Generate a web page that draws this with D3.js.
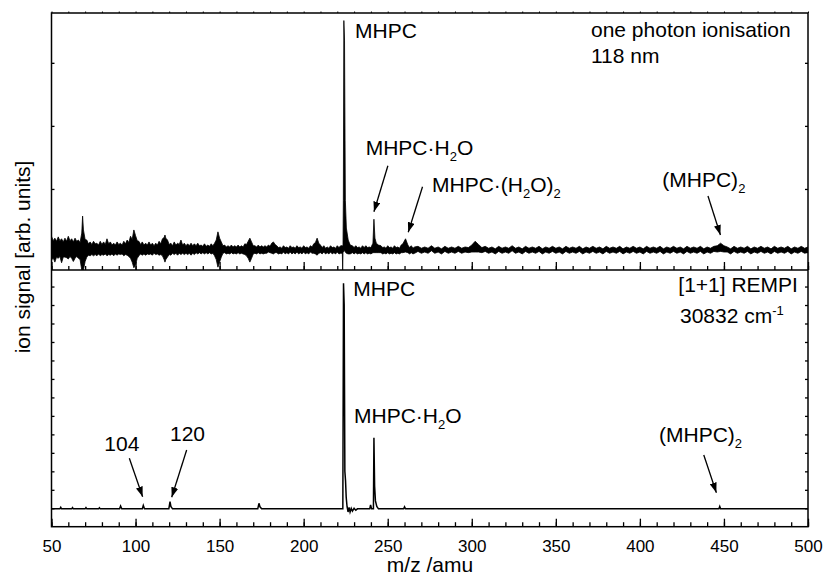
<!DOCTYPE html>
<html>
<head>
<meta charset="utf-8">
<script src="https://cdn.jsdelivr.net/npm/d3@7"></script>
<style>
  body { margin: 0; background: #fff; }
  text { font-family: "Liberation Sans", Arial, sans-serif; fill: #000; }
</style>
</head>
<body>
<svg id="chart" width="824" height="578"></svg>
<script>
// --- top trace: one photon ionisation, 118 nm (upper / lower envelope of the noisy signal) ---
const topMz = [
  50,51,52,53,54,55,56,57,58,59,
  60,61,62,63,64,65,66,67,68,68.5,
  69,70,71,72,73,74,75,76,77,78,
  79,80,81,82,83,84,85,86,87,88,
  89,90,91,92,93,94,95,96,97,98,
  99,100,101,102,103,104,105,106,107,108,
  109,110,111,112,113,114,115,116,117,117.5,
  118,119,120,121,122,123,124,125,126,127,
  128,129,130,131,132,133,134,135,136,137,
  138,139,140,141,142,143,144,145,146,147,
  148,149,150,151,152,153,154,155,156,157,
  158,159,160,161,162,163,164,165,166,167,
  168,169,170,171,172,173,174,175,176,177,
  178,179,180,181,182,183,184,185,186,187,
  188,189,190,191,192,193,194,195,196,197,
  198,199,200,201,202,203,204,205,206,207,
  208,209,210,211,212,213,214,215,216,217,
  218,219,220,221,222,
  223,223.2,223.4,223.6,223.9,224.3,224.8,225.4,226.5,227.7,
  229,230,231,232,233,234,235,236,237,238,
  239,240,241.2,241.8,242.4,243.2,244.5,246,247,248,
  249,250,251,252,253,254,255,256,257,258,
  259,260.6,262,263,264,265,266,
  268,270,272,274,276,278,280,282,284,286,
  288,290,292,294,296,298,300,302,304,306,
  308,310,312,314,316,318,320,322,324,326,
  328,330,332,334,336,338,340,342,344,346,
  348,350,352,354,356,358,360,362,364,366,
  368,370,372,374,376,378,380,382,384,386,
  388,390,392,394,396,398,400,402,404,406,
  408,410,412,414,416,418,420,422,424,426,
  428,430,432,434,436,438,440,442,444,446,
  448,450,452,454,456,458,460,462,464,466,
  468,470,472,474,476,478,480,482,484,486,
  488,490,492,494,496,498,500];
const topHi = [
  2.5,1.8,2.2,1.7,2.4,1.8,2.1,1.6,2.2,1.7,
  2.5,1.8,2.1,1.6,2.2,1.7,1.9,1.5,3.0,5.7,
  3.5,2.0,1.9,1.3,1.6,1.2,1.7,1.3,1.4,1.1,
  1.7,1.2,1.6,1.2,2.1,1.3,1.6,1.1,1.4,1.1,
  1.6,1.2,1.4,1.1,1.7,1.3,1.9,1.5,2.5,2.0,
  3.5,2.6,1.8,1.7,1.2,1.6,1.1,1.4,1.1,1.6,
  1.1,1.4,1.0,1.4,1.1,1.7,1.3,2.1,2.3,2.7,
  2.2,1.9,1.2,1.4,1.0,1.6,1.1,1.4,1.2,1.9,
  1.1,1.4,1.0,1.3,1.0,1.4,1.0,1.3,1.0,1.4,
  1.0,1.1,0.9,1.3,0.9,1.1,0.9,1.3,1.0,1.4,
  1.9,3.2,2.2,1.6,1.0,1.1,0.8,1.0,0.8,1.1,
  0.8,1.0,0.8,1.1,0.8,1.0,0.8,1.3,1.2,1.7,
  2.2,1.6,1.0,1.0,0.8,1.1,0.8,1.0,0.8,1.0,
  0.8,1.1,0.9,1.4,1.6,1.2,1.0,0.7,0.8,0.6,
  1.0,0.7,0.8,0.6,1.0,0.7,0.8,0.6,1.0,0.7,
  0.8,0.6,1.0,0.7,0.8,0.6,1.0,0.8,1.3,1.5,
  2.2,1.4,1.1,0.7,1.0,0.6,0.8,0.6,1.0,0.7,
  0.8,0.6,1.0,0.7,1.0,
  1.0,1.0,1.0,8.2,36.7,33.6,8.2,3.8,1.9,1.1,
  1.0,0.7,1.0,0.7,0.8,0.6,1.0,0.7,1.0,0.7,
  0.8,0.7,1.4,5.2,2.2,1.4,1.1,1.0,0.7,0.8,
  0.6,1.0,0.7,0.8,0.6,1.0,0.7,0.8,0.6,1.1,
  1.3,2.1,1.1,0.7,1.0,0.6,0.8,
  0.9,0.6,0.8,0.6,1.0,0.6,0.8,0.5,0.9,0.6,
  0.8,0.6,0.9,0.6,0.8,0.7,1.1,1.7,1.2,0.7,
  0.9,0.6,0.8,0.5,0.9,0.6,0.8,0.6,1.0,0.6,
  0.8,0.5,0.9,0.6,0.8,0.6,0.9,0.5,0.8,0.6,
  0.9,0.6,0.8,0.5,0.9,0.6,0.8,0.6,0.9,0.5,
  0.8,0.6,0.9,0.6,0.8,0.5,0.9,0.6,0.8,0.6,
  0.9,0.5,0.8,0.6,0.9,0.6,0.8,0.5,0.9,0.6,
  0.8,0.6,0.9,0.5,0.8,0.6,0.9,0.6,0.8,0.5,
  0.9,0.6,0.8,0.6,0.9,0.5,0.8,0.6,0.9,1.0,
  1.4,1.0,0.8,0.5,0.9,0.6,0.8,0.6,0.9,0.5,
  0.8,0.6,0.9,0.6,0.8,0.5,0.9,0.6,0.8,0.6,
  0.9,0.5,0.8,0.6,0.9,0.6,0.8];
const topLo = [
  -1.3,-0.9,-1.6,-0.8,-1.0,-0.7,-1.7,-0.8,-0.8,-0.9,
  -1.1,-0.7,-1.0,-1.5,-1.0,-0.7,-1.0,-1.2,-2.85,-2.85,
  -2.85,-1.5,-0.8,-0.5,-0.6,-0.4,-0.6,-0.4,-0.6,-0.3,
  -0.6,-0.4,-0.5,-0.3,-0.6,-0.4,-0.5,-0.3,-0.6,-0.3,
  -0.5,-0.3,-0.4,-0.3,-0.6,-0.4,-0.5,-0.7,-1.0,-1.6,
  -2.5,-2.0,-1.0,-0.6,-0.3,-0.5,-0.3,-0.5,-0.3,-0.4,
  -0.3,-0.5,-0.2,-0.4,-0.3,-0.5,-0.4,-0.6,-1.2,-1.6,
  -1.2,-0.8,-0.4,-0.5,-0.2,-0.4,-0.2,-0.5,-0.2,-0.4,
  -0.2,-0.4,-0.2,-0.4,-0.2,-0.5,-0.2,-0.4,-0.1,-0.3,
  -0.1,-0.3,-0.1,-0.3,-0.1,-0.3,-0.1,-0.3,-0.2,-0.6,
  -1.2,-2.4,-1.6,-0.8,-0.2,-0.1,-0.3,-0.2,-0.3,-0.1,
  -0.3,-0.2,-0.3,-0.1,-0.3,-0.2,-0.3,-0.4,-0.6,-1.0,
  -1.6,-1.0,-0.3,-0.2,-0.3,-0.1,-0.3,-0.2,-0.3,-0.2,
  -0.2,0.0,-0.1,-0.2,-0.3,-0.1,-0.1,-0.3,-0.2,-0.3,
  0.0,-0.3,-0.1,-0.3,0.0,-0.3,-0.1,-0.3,0.0,-0.3,
  -0.1,-0.3,0.0,-0.3,-0.1,-0.3,0.0,-0.2,-0.2,-0.3,
  -0.5,-0.2,-0.1,-0.3,0.0,-0.3,-0.1,-0.3,0.0,-0.3,
  -0.1,-0.3,0.0,-0.3,-0.2,
  -0.2,-2.85,0.0,0.0,0.2,0.2,0.0,-0.2,-0.3,-0.3,
  -0.1,-0.3,-0.1,-0.3,-0.2,-0.3,-0.1,-0.3,-0.1,-0.3,
  -0.2,-0.3,-0.1,-0.1,-0.1,-0.1,-0.1,-0.1,-0.3,-0.2,
  -0.3,-0.1,-0.3,-0.2,-0.3,-0.1,-0.3,-0.2,-0.3,-0.1,
  -0.1,0.0,-0.1,-0.3,-0.1,-0.3,-0.2,
  0.1,-0.2,0.0,-0.2,0.2,-0.2,0.0,-0.3,0.1,-0.2,
  0.0,-0.2,0.1,-0.2,0.0,-0.1,0.0,0.0,0.0,-0.1,
  0.1,-0.2,0.0,-0.3,0.1,-0.2,0.0,-0.2,0.2,-0.2,
  0.0,-0.3,0.1,-0.2,0.0,-0.2,0.1,-0.3,0.0,-0.2,
  0.1,-0.2,0.0,-0.3,0.1,-0.2,0.0,-0.2,0.1,-0.3,
  0.0,-0.2,0.1,-0.2,0.0,-0.3,0.1,-0.2,0.0,-0.2,
  0.1,-0.3,0.0,-0.2,0.1,-0.2,0.0,-0.3,0.1,-0.2,
  0.0,-0.2,0.1,-0.3,0.0,-0.2,0.1,-0.2,0.0,-0.3,
  0.1,-0.2,0.0,-0.2,0.1,-0.3,0.0,-0.2,0.1,0.0,
  0.1,0.0,0.0,-0.3,0.1,-0.2,0.0,-0.2,0.1,-0.3,
  0.0,-0.2,0.1,-0.2,0.0,-0.3,0.1,-0.2,0.0,-0.2,
  0.1,-0.3,0.0,-0.2,0.1,-0.2,0.0];

// --- bottom trace: [1+1] REMPI, 30832 cm-1 ---
const rempiMz = [50,55,55.5,56,62,62.5,63,70,70.5,71,78,78.5,79,90.5,91.1,91.8,104,104.6,105.3,119.8,120.5,121,122,
  172.7,173.4,174,175,223.3,223.7,224.1,224.5,224.9,225.3,225.8,226.4,227,227.6,228.3,229,230,231,232,
  239.3,239.8,240.4,241.5,241.8,242.2,242.7,243.5,244.5,259.5,260,260.6,447,447.5,448,500];
const rempiSig = [-0.3,-0.3,0.5,-0.3,-0.3,0.4,-0.3,-0.3,0.4,-0.3,-0.3,0.3,-0.3,-0.3,1.2,-0.3,-0.3,1.5,-0.3,-0.3,3.6,1.0,-0.3,
  -0.3,2.7,0.8,-0.3,-0.3,121.8,110,20,15,6,1,-2,0.5,-2,0,-1.5,0,-1,-0.3,
  -0.3,1.8,-0.3,-0.3,38.2,12,4,1,-0.3,-0.3,0.8,-0.3,-0.3,1.0,-0.3,-0.3];

const xMajor = d3.range(50, 501, 50);
const xMinor = d3.range(50, 501, 10);
const topTicks = [0, 10, 20, 30];
const botTicks = d3.range(0, 121, 10);

const L = 51.5, R = 808, T = 13, M = 270, B = 526.7;

const svg = d3.select("#chart");
const x = d3.scaleLinear().domain([50, 500]).range([L, R]);
const yTop = d3.scaleLinear().domain([-2.85, 37.9]).range([M, T]);
const yBot = d3.scaleLinear().domain([-9.96, 128.95]).range([B, M]);

const defs = svg.append("defs");
defs.append("clipPath").attr("id", "clipTop")
  .append("rect").attr("x", L).attr("y", T).attr("width", R - L).attr("height", M - T);

defs.append("marker")
  .attr("id", "head")
  .attr("markerUnits", "userSpaceOnUse")
  .attr("viewBox", "0 0 10 7")
  .attr("refX", 10).attr("refY", 3.5)
  .attr("markerWidth", 10).attr("markerHeight", 7)
  .attr("orient", "auto")
  .append("path").attr("d", "M0,0 L10,3.5 L0,7 z").attr("fill", "#000");

// traces
const area = d3.area()
  .x(i => x(topMz[i]))
  .y0(i => yTop(topLo[i]))
  .y1(i => yTop(topHi[i]));

svg.append("path")
  .datum(d3.range(topMz.length))
  .attr("d", area)
  .attr("fill", "#000")
  .attr("stroke", "#000")
  .attr("stroke-width", 0.8)
  .attr("clip-path", "url(#clipTop)");

const line = d3.line()
  .x(i => x(rempiMz[i]))
  .y(i => yBot(rempiSig[i]));

svg.append("path")
  .datum(d3.range(rempiMz.length))
  .attr("d", line)
  .attr("fill", "none")
  .attr("stroke", "#000")
  .attr("stroke-width", 1.5);

// axes (all ticks point inward)
function addAxis(axis, tx, ty) {
  const g = svg.append("g")
    .attr("transform", `translate(${tx},${ty})`)
    .call(axis);
  g.select(".domain").remove();
  g.selectAll(".tick line").attr("stroke", "#000").attr("stroke-width", 1.3);
  return g;
}

// bottom x axis with labels
const xa = addAxis(d3.axisBottom(x).tickValues(xMajor).tickSize(-8).tickPadding(13).tickFormat(d3.format("d")), 0, B);
xa.selectAll("text").style("font-size", "17px").style("font-family", "'Liberation Sans', Arial, sans-serif");
addAxis(d3.axisBottom(x).tickValues(xMinor).tickSize(-4.5).tickFormat(""), 0, B);

// x ticks on the bottom of the top panel
addAxis(d3.axisBottom(x).tickValues(xMajor).tickSize(-8).tickFormat(""), 0, M);
addAxis(d3.axisBottom(x).tickValues(xMinor).tickSize(-4).tickFormat(""), 0, M);
// tiny ticks on the top border
addAxis(d3.axisTop(x).tickValues(xMinor).tickSize(1.5).tickFormat(""), 0, T)
  .selectAll(".tick line").attr("stroke-width", 1);

// y ticks
addAxis(d3.axisLeft(yTop).tickValues(topTicks).tickSize(-3).tickFormat(""), L, 0);
addAxis(d3.axisRight(yTop).tickValues(topTicks).tickSize(-3).tickFormat(""), R, 0);
addAxis(d3.axisLeft(yBot).tickValues(botTicks).tickSize(-3).tickFormat(""), L, 0);
addAxis(d3.axisRight(yBot).tickValues(botTicks).tickSize(-3).tickFormat(""), R, 0);

// frame
svg.append("rect")
  .attr("x", L).attr("y", T).attr("width", R - L).attr("height", B - T)
  .attr("fill", "none").attr("stroke", "#000").attr("stroke-width", 1.5);
svg.append("line")
  .attr("x1", L).attr("x2", R).attr("y1", M).attr("y2", M)
  .attr("stroke", "#000").attr("stroke-width", 1.5);

// axis titles
svg.append("text")
  .attr("x", 430).attr("y", 572)
  .attr("text-anchor", "middle")
  .style("font-size", "21px")
  .text("m/z /amu");

svg.append("text")
  .attr("transform", "translate(30,257) rotate(-90)")
  .attr("text-anchor", "middle")
  .style("font-size", "21px")
  .text("ion signal [arb. units]");

// annotations: text with sub/superscripts
function rich(px, py, parts) {
  const t = svg.append("text").attr("x", px).attr("y", py).style("font-size", "21px");
  let shift = 0;
  parts.forEach(p => {
    const s = typeof p === "string" ? { t: p, k: 0 } : p;
    const target = s.k === "sub" ? 6 : s.k === "sup" ? -8 : 0;
    t.append("tspan")
      .attr("dy", target - shift)
      .style("font-size", s.k ? "13px" : "21px")
      .text(s.t);
    shift = target;
  });
}
const sub = v => ({ t: v, k: "sub" });
const sup = v => ({ t: v, k: "sup" });

rich(355, 38, ["MHPC"]);
rich(365.7, 155, ["MHPC\u00B7H", sub("2"), "O"]);
rich(432, 191.7, ["MHPC\u00B7(H", sub("2"), "O)", sub("2")]);
rich(662.3, 187, ["(MHPC)", sub("2")]);
rich(591, 36.7, ["one photon ionisation"]);
rich(591, 63.3, ["118 nm"]);

rich(353.3, 296, ["MHPC"]);
rich(354, 423, ["MHPC\u00B7H", sub("2"), "O"]);
rich(104.3, 450.7, ["104"]);
rich(170, 440.7, ["120"]);
rich(659, 441.7, ["(MHPC)", sub("2")]);
rich(678.3, 291.7, ["[1+1] REMPI"]);
rich(680, 323.3, ["30832 cm", sup("-1")]);

// arrows: [from m/z, from y, to m/z, to y]
const arrows = [
  [250.1, 165.7, 241.8, 211.7],
  [270.7, 186.7, 262.2, 232.3],
  [440.5, 196, 447.9, 235],
  [96.3, 458.3, 104.2, 496.7],
  [130.4, 450, 121.5, 497.3],
  [438.0, 455, 445.5, 492.7]
];
svg.append("g").selectAll("line")
  .data(arrows)
  .join("line")
  .attr("x1", d => x(d[0])).attr("y1", d => d[1])
  .attr("x2", d => x(d[2])).attr("y2", d => d[3])
  .attr("stroke", "#000").attr("stroke-width", 1.3)
  .attr("marker-end", "url(#head)");
</script>
</body>
</html>
